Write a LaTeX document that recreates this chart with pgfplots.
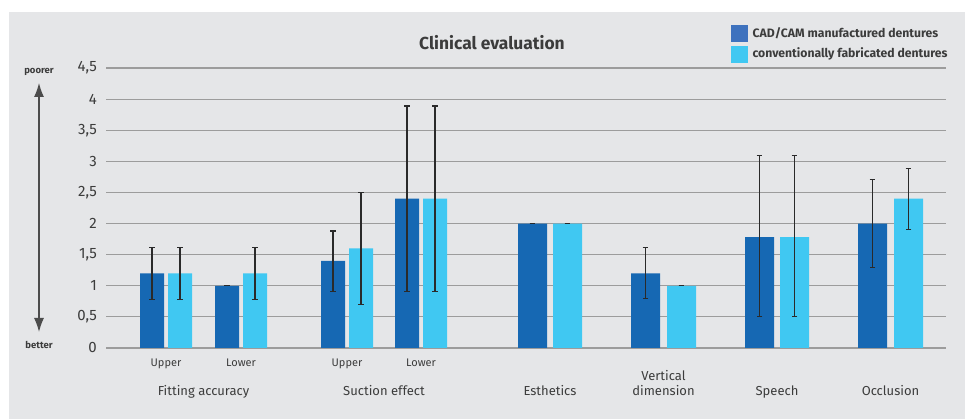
\documentclass[border=0pt]{standalone}
\usepackage{fontspec}
\setmainfont{Fira Sans}
\usepackage{pgfplots}
\pgfplotsset{compat=1.18}
\usetikzlibrary{arrows.meta}
\definecolor{bg}{HTML}{E5E6E8}
\definecolor{darkbar}{HTML}{1668B3}
\definecolor{lightbar}{HTML}{40C8F2}
\definecolor{legdark}{HTML}{3E72BE}
\definecolor{gridc}{HTML}{9C9C9C}
\definecolor{txt}{HTML}{3C3C3C}
\definecolor{errc}{HTML}{2A2A2A}
\begin{document}
\begin{tikzpicture}[x=1pt,y=1pt]
\useasboundingbox (0,0) rectangle (965,419);
\fill[white] (0,0) rectangle (965,419);
\fill[bg] (9,0) rectangle (965,407);
% poorer / better arrow
\draw[{Latex[length=14pt,width=10pt]}-{Latex[length=14pt,width=10pt]}, line width=1.2pt, color=black!70] (39,336) -- (39,87);
\node[font=\bfseries\fontsize{9.5}{11}\selectfont, text=txt] at (39,347) {poorer};
\node[font=\bfseries\fontsize{9.5}{11}\selectfont, text=txt] at (39,74) {better};
\begin{axis}[
  at={(106pt,71pt)}, anchor=south west,
  scale only axis, width=840pt, height=280pt,
  xmin=106, xmax=946, ymin=0, ymax=4.5,
  ybar, bar shift=0pt,
  axis line style={draw=none},
  major tick length=0pt,
  ytick={0,0.5,...,4.5},
  ymajorgrids, grid style={color=gridc, line width=1.1pt},
  /pgf/number format/use comma,
  /pgf/number format/assume math mode=true,
  yticklabel style={font=\fontsize{15}{17}\selectfont, text=txt, inner sep=0pt, anchor=east, xshift=-9pt},
  xtick={166,241,347,421},
  xticklabels={Upper,Lower,Upper,Lower},
  xticklabel style={font=\fontsize{11}{13}\selectfont, text=txt, inner sep=0pt, anchor=north, yshift=-11pt},
  extra x ticks={203.5,384,550,663.5,777,890.5},
  extra x tick labels={{\strut\\Fitting accuracy},{\strut\\Suction effect},{\strut\\Esthetics},{\strut Vertical\\dimension},{\strut\\Speech},{\strut\\Occlusion}},
  extra x tick style={major tick length=0pt, xticklabel style={font=\fontsize{13}{15}\selectfont, align=center, text=txt, inner sep=0pt, anchor=north, yshift=-11pt}},
  title={Clinical evaluation},
  title style={font=\bfseries\fontsize{17.4}{19}\selectfont, text=txt, at={(axis cs:492,4.5)}, anchor=base, yshift=12pt},
  legend style={at={(0.74405,1.15357)}, anchor=north west, draw=none, fill=none, inner sep=0pt, row sep=4pt,
    font=\bfseries\fontsize{12.2}{14}\selectfont, text=txt, nodes={inner sep=0pt}},
  legend cell align=left,
  error bars/y dir=both, error bars/y explicit,
  error bars/error bar style={line width=1.1pt, color=errc},
  error bars/error mark options={rotate=90, mark size=2.8pt, line width=1.1pt, color=errc},
]
\addlegendimage{legend image code/.code={\fill[legdark] (0pt,-8pt) rectangle (16pt,8pt);}}
\addlegendentry{\hspace*{5pt}CAD/CAM manufactured dentures}
\addlegendimage{legend image code/.code={\fill[lightbar] (0pt,-8pt) rectangle (16pt,8pt);}}
\addlegendentry{\hspace*{5pt}conventionally fabricated dentures}
% narrow bars (Fitting accuracy, Suction effect)
\addplot[forget plot, fill=darkbar, draw=none, bar width=24pt] coordinates {
  (152,1.2) +- (0,0.42)
  (227,1.0) +- (0,0)
  (333,1.4) += (0,0.48) -= (0,0.49)
  (407,2.4) +- (0,1.49)
};
\addplot[forget plot, fill=lightbar, draw=none, bar width=24pt] coordinates {
  (180,1.2) +- (0,0.42)
  (255,1.2) +- (0,0.42)
  (361,1.6) +- (0,0.9)
  (435,2.4) +- (0,1.49)
};
% wide bars (Esthetics, Vertical dimension, Speech, Occlusion)
\addplot[forget plot, fill=darkbar, draw=none, bar width=29pt] coordinates {
  (532.5,2.0) +- (0,0)
  (645.5,1.2) +- (0,0.41)
  (759.5,1.78) += (0,1.32) -= (0,1.28)
  (872.5,2.0) +- (0,0.71)
};
\addplot[forget plot, fill=lightbar, draw=none, bar width=29pt] coordinates {
  (567.5,2.0) +- (0,0)
  (681.5,1.0) +- (0,0)
  (794.5,1.78) += (0,1.32) -= (0,1.28)
  (908.5,2.4) += (0,0.48) -= (0,0.49)
};
\end{axis}
\end{tikzpicture}
\end{document}
